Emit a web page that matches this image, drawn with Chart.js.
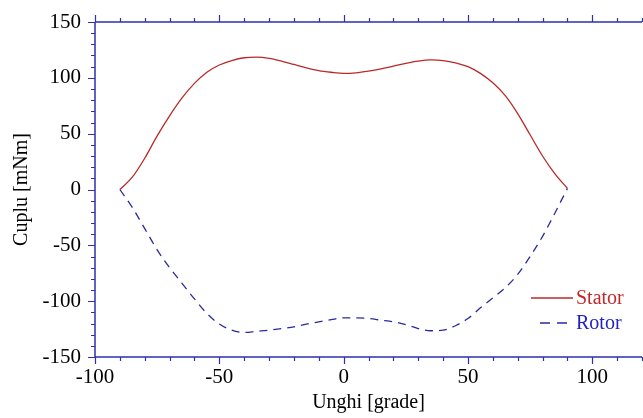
<!DOCTYPE html>
<html lang="en">
<head>
    <meta charset="UTF-8">
    <title>Cuplu vs Unghi</title>
    <style>
        body {
            margin: 0;
            background: #fff;
        }
        .wrap {
            width: 643px;
            height: 418px;
        }
    </style>
</head>
<body>
    <div class="wrap"><canvas id="torqueChart"></canvas></div>

    <script src="https://cdn.jsdelivr.net/npm/chart.js"></script>
    <script>
        // Data
        const angles = [-90, -85, -80, -75, -70, -65, -60, -55, -50, -45, -40, -35, -30, -25, -20, -15, -10, -5, 0,
                        5, 10, 15, 20, 25, 30, 35, 40, 45, 50, 55, 60, 65, 70, 75, 80, 85, 90];
        const statorTorque = [0, 11, 28, 48, 66, 82, 95, 105, 111.5, 115.5, 118, 118.5, 117.5, 115, 112, 109, 106.5, 105, 104,
                              104.5, 106, 108, 110.5, 113, 115, 116, 115.5, 113.5, 110, 104, 95.5, 84, 68, 49, 30, 14, 1];
        const rotorTorque = [0, -16, -35, -54, -70, -84, -98, -111, -120.5, -126, -128, -127, -126, -124.5, -123, -120.5, -118.5, -116.5, -115,
                             -115, -115.5, -117, -118.5, -121, -124.5, -126.5, -126, -122, -115.5, -106, -97, -88, -76, -60, -42, -21, 1];
        const xTicks = [-100, -50, 0, 50, 100];
        const yTicks = [-150, -100, -50, 0, 50, 100, 150];

        const axisColor = '#2f2fb0';
        const serif = "'Liberation Serif', 'Times New Roman', serif";

        // frame with major/minor ticks (left, bottom, top)
        const framePlugin = {
            id: 'frame',
            afterDraw(chart) {
                const ctx = chart.ctx;
                const { left, right, top, bottom } = chart.chartArea;
                const xs = chart.scales.x, ys = chart.scales.y;
                ctx.save();
                ctx.strokeStyle = axisColor;
                ctx.lineWidth = 1.5;
                ctx.beginPath();
                ctx.moveTo(left, top); ctx.lineTo(right, top);
                ctx.moveTo(left, top); ctx.lineTo(left, bottom);
                ctx.moveTo(left, bottom); ctx.lineTo(right, bottom);
                ctx.stroke();
                ctx.lineWidth = 1.2;
                ctx.beginPath();
                for (let v = xs.min; v <= xs.max; v += 10) {
                    const px = Math.round(xs.getPixelForValue(v)) + 0.5;
                    const len = v % 50 === 0 ? 7 : 4;
                    ctx.moveTo(px, bottom); ctx.lineTo(px, bottom + len);
                    ctx.moveTo(px, top); ctx.lineTo(px, top - len);
                }
                for (let v = ys.min; v <= ys.max; v += 10) {
                    const py = Math.round(ys.getPixelForValue(v)) + 0.5;
                    const len = v % 50 === 0 ? 7 : 4;
                    ctx.moveTo(left, py); ctx.lineTo(left - len, py);
                }
                ctx.stroke();
                ctx.restore();
            }
        };

        // legend drawn inside the plot, lower right
        const innerLegend = {
            id: 'innerLegend',
            afterDraw(chart) {
                const ctx = chart.ctx;
                const { right, bottom } = chart.chartArea;
                ctx.save();
                ctx.font = '20px ' + serif;
                ctx.textBaseline = 'middle';
                chart.data.datasets.forEach((ds, i) => {
                    const y = bottom - 59 + i * 25;
                    const x0 = right - 111;
                    ctx.strokeStyle = ds.borderColor;
                    ctx.lineWidth = 1.3;
                    ctx.setLineDash(ds.borderDash ? [10, 7] : []);
                    ctx.beginPath();
                    ctx.moveTo(i ? x0 + 9 : x0, y); ctx.lineTo(x0 + 42, y);
                    ctx.stroke();
                    ctx.setLineDash([]);
                    ctx.fillStyle = ds.labelColor;
                    ctx.fillText(ds.label, x0 + 45, y + 1);
                });
                ctx.restore();
            }
        };

        const ctx = document.getElementById('torqueChart').getContext('2d');
        new Chart(ctx, {
            type: 'line',
            data: {
                datasets: [{
                    label: 'Stator',
                    data: angles.map((a, i) => ({ x: a, y: statorTorque[i] })),
                    borderColor: '#b82a2a',
                    labelColor: '#c0282a',
                    borderWidth: 1.3,
                    pointRadius: 0,
                    cubicInterpolationMode: 'monotone'
                }, {
                    label: 'Rotor',
                    data: angles.map((a, i) => ({ x: a, y: rotorTorque[i] })),
                    borderColor: '#2a2aa0',
                    labelColor: '#2222c0',
                    borderDash: [8, 6],
                    borderWidth: 1.3,
                    pointRadius: 0,
                    cubicInterpolationMode: 'monotone'
                }]
            },
            options: {
                responsive: true,
                maintainAspectRatio: false,
                animation: false,
                layout: { padding: { top: 22, right: 1, left: 10, bottom: 0 } },
                plugins: {
                    legend: { display: false },
                    tooltip: { enabled: false }
                },
                scales: {
                    x: {
                        type: 'linear',
                        min: -100,
                        max: 120,
                        grid: { display: false },
                        border: { display: false },
                        afterBuildTicks: s => { s.ticks = xTicks.map(v => ({ value: v })); },
                        afterFit: s => { s.height = 61; },
                        ticks: {
                            color: '#000',
                            padding: 0,
                            maxRotation: 0,
                            font: { family: serif, size: 21 }
                        },
                        title: {
                            display: true,
                            text: 'Unghi [grade]',
                            color: '#000',
                            padding: { top: 0, bottom: 3 },
                            font: { family: serif, size: 20 }
                        }
                    },
                    y: {
                        type: 'linear',
                        min: -150,
                        max: 150,
                        grid: { display: false },
                        border: { display: false },
                        afterBuildTicks: s => { s.ticks = yTicks.map(v => ({ value: v })); },
                        afterFit: s => { s.width = 85; },
                        ticks: {
                            color: '#000',
                            padding: 6,
                            font: { family: serif, size: 21 }
                        },
                        title: {
                            display: true,
                            text: 'Cuplu [mNm]',
                            color: '#000',
                            padding: 0,
                            font: { family: serif, size: 20 }
                        }
                    }
                }
            },
            plugins: [framePlugin, innerLegend]
        });
    </script>
</body>
</html>
